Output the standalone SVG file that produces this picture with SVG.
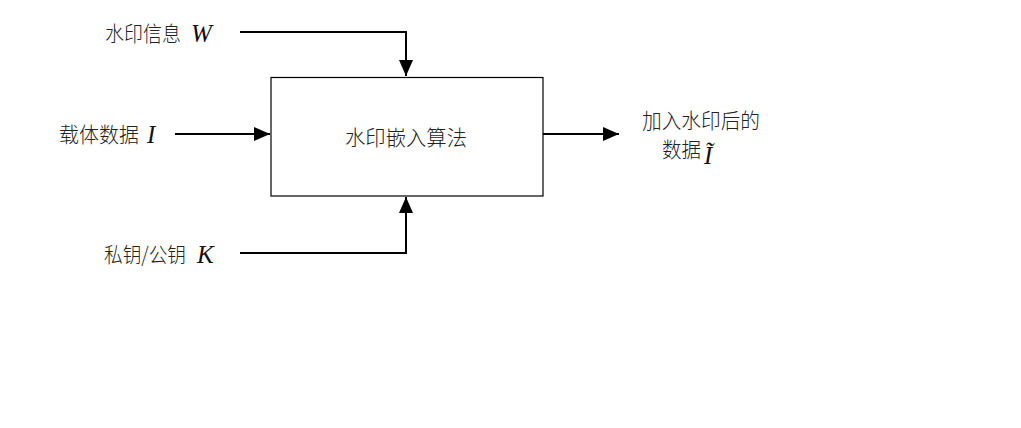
<svg xmlns="http://www.w3.org/2000/svg" width="1021" height="428" viewBox="0 0 1021 428">
<style>
.cjk{font-family:"Noto Sans CJK SC","Noto Sans CJK JP",sans-serif;font-size:21px;font-weight:300;fill:#222}
.var{font-family:"Liberation Serif",serif;font-style:italic;font-size:25px;fill:#111}
.conn{fill:none;stroke:#000;stroke-width:2}
.box{fill:#fff;stroke:#000;stroke-width:1.2}
</style>
<defs>
<marker id="ah" markerUnits="userSpaceOnUse" markerWidth="16" markerHeight="16" viewBox="0 0 16 16" refX="16" refY="8" orient="auto">
<path d="M0,1 L16,8 L0,15 Z" fill="#000"/>
</marker>
</defs>
<rect width="1021" height="428" fill="#fff"/>
<g id="connectors">
<path class="conn" d="M240,32 H406 V76" marker-end="url(#ah)"/>
<path class="conn" d="M175,134 H270" marker-end="url(#ah)"/>
<path class="conn" d="M240,253 H406 V197" marker-end="url(#ah)"/>
<path class="conn" d="M543,134 H619" marker-end="url(#ah)"/>
</g>
<g id="node-algorithm">
<rect class="box" x="271" y="77.5" width="272" height="118.5"/>
<text class="cjk" x="345" y="145" textLength="122" lengthAdjust="spacingAndGlyphs">水印嵌入算法</text>
</g>
<g id="node-watermark">
<text class="cjk" x="105" y="41" textLength="76" lengthAdjust="spacingAndGlyphs">水印信息</text>
<text class="var" x="191" y="42">W</text>
</g>
<g id="node-carrier">
<text class="cjk" x="59" y="142" textLength="80" lengthAdjust="spacingAndGlyphs">载体数据</text>
<text class="var" x="147" y="143">I</text>
</g>
<g id="node-key">
<text class="cjk" x="104" y="262" textLength="82" lengthAdjust="spacingAndGlyphs">私钥/公钥</text>
<text class="var" x="197" y="263">K</text>
</g>
<g id="node-output">
<text class="cjk" x="642" y="128" textLength="118" lengthAdjust="spacingAndGlyphs">加入水印后的</text>
<text class="cjk" x="662" y="157" textLength="39" lengthAdjust="spacingAndGlyphs">数据</text>
<text class="var" x="704" y="164">Ĩ</text>
</g>
</svg>
